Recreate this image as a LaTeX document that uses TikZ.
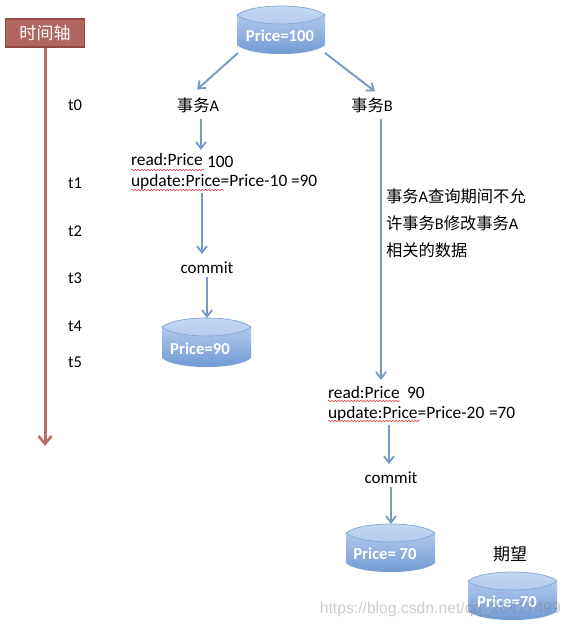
\documentclass[tikz,border=0pt]{standalone}
\usepackage{fontspec}
\setmainfont{Carlito}
\newfontfamily\cjk{Noto Sans CJK SC}
\usetikzlibrary{arrows.meta,decorations.pathmorphing}
\definecolor{conncol}{RGB}{120,152,196}
\definecolor{axiscol}{RGB}{186,108,102}
\definecolor{axisbox}{RGB}{178,102,96}
\definecolor{axisedge}{RGB}{150,72,68}
\definecolor{dbtop}{RGB}{176,201,238}
\definecolor{dbbot}{RGB}{108,151,208}
\definecolor{dbedge}{RGB}{130,165,212}
\definecolor{waveC}{RGB}{225,70,70}
\tikzset{
  conn/.style={draw=conncol,line width=1.9pt,-{Straight Barb[length=6.5pt,width=10pt,line width=1.8pt]}},
  lbl/.style={font=\fontsize{16.5}{18}\selectfont,text=black,inner sep=0pt,outer sep=0pt},
  cjklbl/.style={font=\cjk\fontsize{16.3}{18}\selectfont,text=black,inner sep=0pt,outer sep=0pt},
  code/.style={font=\fontsize{17.4}{19}\selectfont,text=black,inner sep=0pt,outer sep=0pt,anchor=base west},
  dbtext/.style={font=\bfseries\fontsize{16.7}{18}\selectfont,text=white,inner sep=0pt,outer sep=0pt},
  wavy/.style={draw=waveC,line width=.6pt,decorate,decoration={snake,amplitude=.7pt,segment length=3.2pt}}
}
% name, left, right, top, bottom
\newcommand{\dbcyl}[5]{%
  \path[fill=black!18,opacity=.5] (#2+1,#5-8) .. controls (#2+14,#5+3) and (#3-14,#5+3) .. (#3-1,#5-8) -- cycle;
  \path[top color=dbtop,bottom color=dbbot,draw=none]
    (#2,#4+9) -- (#2,#5-9) .. controls (#2+14,#5+3) and (#3-14,#5+3) .. (#3,#5-9) -- (#3,#4+9)
    .. controls (#3-14,#4+21) and (#2+14,#4+21) .. (#2,#4+9) -- cycle;
  \path[top color=dbtop!70!white,bottom color=dbtop,draw=dbedge,line width=.7pt]
    (#2,#4+9) .. controls (#2+14,#4-3) and (#3-14,#4-3) .. (#3,#4+9)
    .. controls (#3-14,#4+21) and (#2+14,#4+21) .. (#2,#4+9) -- cycle;
  \node[inner sep=0pt,outer sep=0pt,minimum width=#3-#2,minimum height=#5-#4] (#1) at ({(#2+#3)/2},{(#4+#5)/2}) {};
}
\begin{document}
\begin{tikzpicture}[x=1pt,y=-1pt]
\useasboundingbox[fill=white] (0,0) rectangle (570,628);

% time axis
\node[draw=axisedge,fill=axisbox,line width=1.2pt,minimum width=79pt,minimum height=28pt,inner sep=0pt,
      font=\cjk\fontsize{17}{19}\selectfont,text=white] (axis) at (45,33) {时间轴};
\coordinate (axisend) at (45,446);
\draw[draw=axiscol,line width=3pt,-{Straight Barb[length=8pt,width=13pt,line width=2.6pt]}] (axis.south) -- (axisend);

\foreach \n/\y in {0/105,1/183,2/231,3/278,4/326,5/362}
  \node[lbl] (t\n) at (75,\y) {t\n};

% databases
\dbcyl{dbA}{237}{325}{6}{54}
\node[dbtext] (dbAt) at (280,36) {Price=100};
\dbcyl{dbB}{162}{251}{318}{367}
\node[dbtext] (dbBt) at (200,349) {Price=90};
\dbcyl{dbC}{346}{435}{524}{572}
\node[dbtext] (dbCt) at (385,554) {Price= 70};
\dbcyl{dbD}{468}{557}{572}{620}
\node[dbtext] (dbDt) at (507,602) {Price=70};

% transactions
\node[cjklbl] (txA) at (198,105) {事务{\fontspec{Carlito}A}};
\node[cjklbl] (txB) at (372,105) {事务{\fontspec{Carlito}B}};

% text A
\node[code] (readA) at (131,166) {read:Price};
\node[code] (valA) at (207,168) {100};
\node[code] (updA) at (131,186) {update:Price=Price-10};
\node[code] (resA) at (291,186) {=90};
\draw[wavy] (131,170) -- (204,170);
\draw[wavy] (131,190) -- (224,190);
\node[lbl,font=\fontsize{17}{19}\selectfont] (comA) at (207,268) {commit};

% text B
\node[code] (readB) at (328,398) {read:Price};
\node[code] (valB) at (407,398) {90};
\node[code] (updB) at (328,418) {update:Price=Price-20};
\node[code] (resB) at (489,418) {=70};
\draw[wavy] (328,401) -- (400,401);
\draw[wavy] (328,421) -- (420,421);
\node[lbl,font=\fontsize{17}{19}\selectfont] (comB) at (391,478) {commit};

% note
\node[cjklbl,anchor=west] (noteA) at (386,196) {事务{\fontspec{Carlito}A}查询期间不允};
\node[cjklbl,anchor=west] (noteB) at (386,223) {许事务{\fontspec{Carlito}B}修改事务{\fontspec{Carlito}A}};
\node[cjklbl,anchor=west] (noteC) at (386,250) {相关的数据};

\node[cjklbl,font=\cjk\fontsize{17}{19}\selectfont] (hope) at (510,554) {期望};

% column guides for the vertical connectors
\coordinate (colA) at (201,0);
\coordinate (colAb) at (202,0);
\coordinate (colAc) at (207,0);
\coordinate (colB) at (381,0);
\coordinate (colBb) at (389,0);
\coordinate (colBc) at (391,0);

% connectors
\draw[conn] ([xshift=1pt,yshift=1pt]dbA.south west) -- ([xshift=-1pt,yshift=8pt]txA.north);
\draw[conn] ([xshift=0pt,yshift=1pt]dbA.south east) -- ([xshift=3pt,yshift=6pt]txB.north);
\draw[conn] ([yshift=-6pt]txA.south -| colA) -- ([yshift=4pt]readA.north -| colA);
\draw[conn] ([yshift=-4pt]updA.south -| colAb) -- ([yshift=8pt]comA.north -| colAb);
\draw[conn] ([yshift=-3pt]comA.south -| colAc) -- (dbB.north -| colAc);
\draw[conn] ([yshift=-6pt]txB.south -| colB) -- ([yshift=6pt]readB.north -| colB);
\draw[conn] ([yshift=-4pt]updB.south -| colBb) -- ([yshift=8pt]comB.north -| colBb);
\draw[conn] ([yshift=-3pt]comB.south -| colBc) -- (dbC.north -| colBc);

% watermark
\node[font=\fontspec{Liberation Sans}\fontsize{15.7}{18}\selectfont,text=gray,opacity=.4,anchor=east,inner sep=0pt] (mark) at (561,609) {https://blog.csdn.net/qq\_20417499};
\end{tikzpicture}
\end{document}
